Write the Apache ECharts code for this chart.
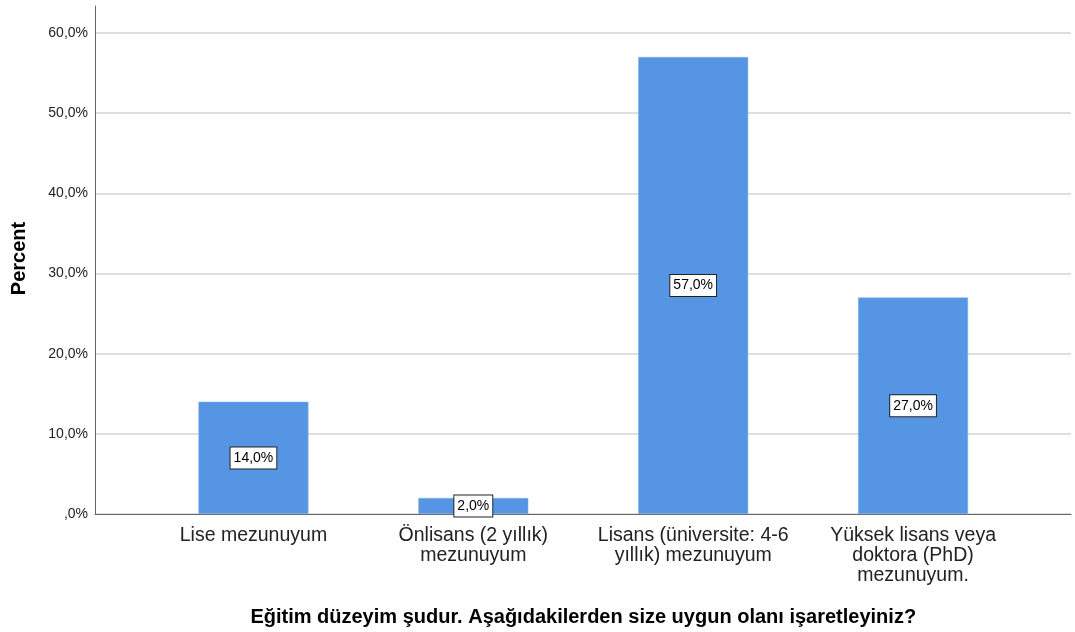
<!DOCTYPE html>
<html>
<head>
<meta charset="utf-8">
<script src="https://cdn.jsdelivr.net/npm/echarts@6/dist/echarts.min.js"></script>
<style>
  html, body { margin: 0; padding: 0; background: #fff; }
  #main { width: 1075px; height: 632px; }
</style>
</head>
<body>
<div id="main"></div>
<script>
  // data
  var categories = [
    'Lise mezunuyum',
    'Önlisans (2 yıllık)\nmezunuyum',
    'Lisans (üniversite: 4-6\nyıllık) mezunuyum',
    'Yüksek lisans veya\ndoktora (PhD)\nmezunuyum.'
  ];
  var percents = [14.0, 2.0, 57.0, 27.0];
  var yTicks = [0, 10, 20, 30, 40, 50, 60];

  var font = '"Liberation Sans", Arial, sans-serif';

  function pct(v) {
    // SPSS style: ",0%" for zero, "14,0%" otherwise
    var s = v.toFixed(1).replace('.', ',');
    if (s.indexOf('0,') === 0) s = s.substring(1);
    return s + '%';
  }

  var chart = echarts.init(document.getElementById('main'));
  var option = {
    animation: false,
    backgroundColor: '#fff',
    grid: [
      // outer frame: axis lines only
      { left: 95, right: 4, top: 6, bottom: 118 },
      // gridlines and tick labels
      { left: 95, right: 4, top: 33, bottom: 118 },
      // bars, inset like the original
      { left: 143.5, right: 52, top: 33, bottom: 118 }
    ],
    xAxis: [
      {
        gridIndex: 0, type: 'category', data: [''],
        axisLine: { show: true, lineStyle: { color: '#666', width: 1 } },
        axisTick: { show: false }, axisLabel: { show: false }, splitLine: { show: false }
      },
      {
        gridIndex: 1, type: 'category', data: [''], show: false
      },
      {
        gridIndex: 2, type: 'category', data: categories,
        axisLine: { show: false }, axisTick: { show: false },
        axisLabel: {
          interval: 0, margin: 12, color: '#222',
          fontFamily: font, fontSize: 19.5, lineHeight: 20
        },
        name: 'Eğitim düzeyim şudur. Aşağıdakilerden size uygun olanı işaretleyiniz?',
        nameLocation: 'middle', nameGap: 93,
        nameTextStyle: { fontFamily: font, fontSize: 20, fontWeight: 'bold', color: '#000' }
      }
    ],
    yAxis: [
      {
        gridIndex: 0, type: 'value', min: 0, max: 63.4,
        axisLine: { show: true, lineStyle: { color: '#666', width: 1 } },
        axisTick: { show: false }, axisLabel: { show: false }, splitLine: { show: false }
      },
      {
        gridIndex: 1, type: 'value', min: yTicks[0], max: yTicks[yTicks.length - 1], interval: 10,
        axisLine: { show: false }, axisTick: { show: false },
        axisLabel: {
          margin: 7, color: '#222', fontFamily: font, fontSize: 14,
          formatter: function (v) { return pct(v); }
        },
        splitLine: { show: true, lineStyle: { color: '#d4d4d4', width: 1.5 } },
        name: 'Percent', nameLocation: 'middle', nameGap: 66, nameRotate: 90,
        nameTextStyle: {
          fontFamily: font, fontSize: 20, fontWeight: 'bold', color: '#000',
          padding: [0, 0, 0, 30]
        }
      },
      {
        gridIndex: 2, type: 'value', min: 0, max: 60, show: false
      }
    ],
    series: [
      {
        type: 'bar',
        xAxisIndex: 2, yAxisIndex: 2,
        data: percents,
        barWidth: '50%',
        itemStyle: { color: '#5595e3', borderColor: '#7fb0ea', borderWidth: 0.5 },
        label: {
          show: true, position: 'inside',
          formatter: function (p) { return pct(p.value); },
          fontFamily: font, fontSize: 14, color: '#000',
          backgroundColor: '#fff', borderColor: '#222', borderWidth: 1,
          padding: [4, 3, 3, 3]
        }
      }
    ]
  };
  chart.setOption(option);
</script>
</body>
</html>
